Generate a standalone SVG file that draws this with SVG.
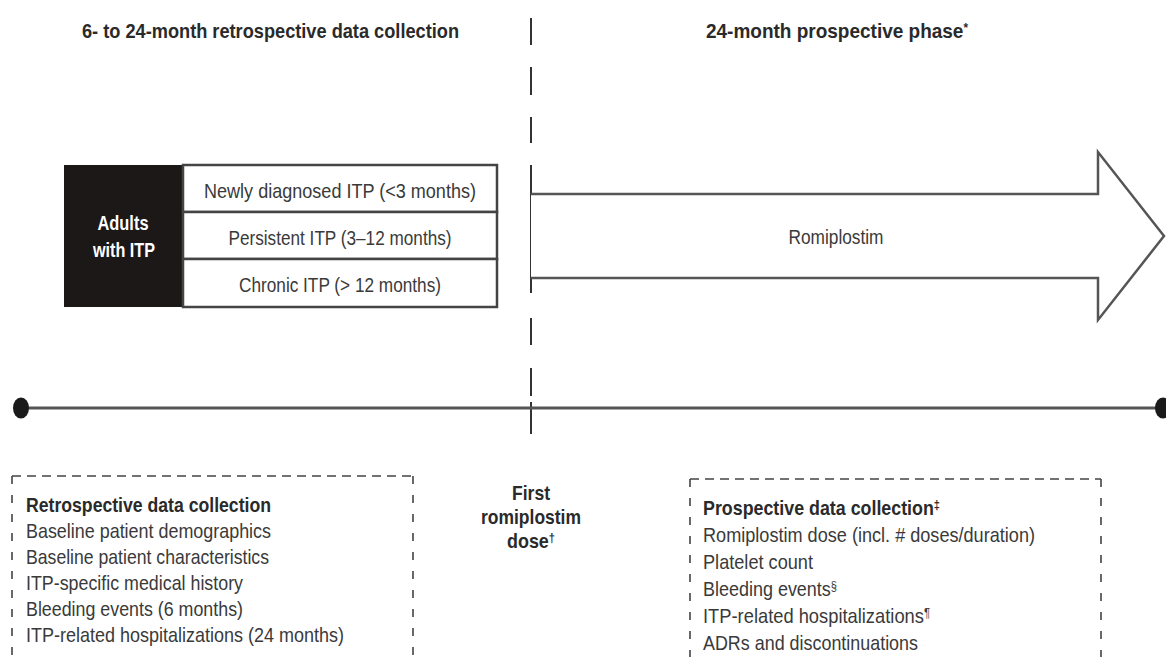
<svg xmlns="http://www.w3.org/2000/svg" width="1166" height="657" viewBox="0 0 1166 657">
<style>
text{font-family:"Liberation Sans Narrow","Liberation Sans",Arial,sans-serif;fill:#3a3a3a}
.h{font-weight:bold;font-size:21px;fill:#2a2a2a}
.b{font-size:21px}
.bb{font-weight:bold;font-size:21px;fill:#2a2a2a}
.w{font-weight:bold;font-size:20px;fill:#ffffff}
.c{text-anchor:middle}
.sup{font-size:13px}
.vl{stroke:#333;stroke-width:2;fill:none}
.dash{stroke:#444;stroke-width:1.6;fill:none}
</style>
<rect width="1166" height="657" fill="#ffffff"/>

<g id="connectors">
  <path class="vl" d="M531,18V45M531,67V95M531,117V143M531,165V293M531,318V345M531,368V396M531,402V434"/>
  <g id="timeline">
    <line x1="21" y1="408" x2="1162" y2="408" stroke="#555" stroke-width="3"/>
    <ellipse cx="21" cy="408" rx="8" ry="10.5" fill="#1a1a1a"/>
    <ellipse cx="1163" cy="408" rx="8" ry="10.5" fill="#1a1a1a"/>
  </g>
</g>

<g id="header-retro">
  <text class="h" x="82" y="38" textLength="377" lengthAdjust="spacingAndGlyphs">6- to 24-month retrospective data collection</text>
</g>
<g id="header-prosp">
  <text class="h" x="706" y="38" textLength="262" lengthAdjust="spacingAndGlyphs">24-month prospective phase<tspan class="sup" dy="-6">*</tspan></text>
</g>

<g id="adults">
  <rect x="64" y="165" width="119" height="142" fill="#1c1818"/>
  <text class="w c" x="123" y="230" textLength="51" lengthAdjust="spacingAndGlyphs">Adults</text>
  <text class="w c" x="124" y="257" textLength="62" lengthAdjust="spacingAndGlyphs">with ITP</text>
</g>
<g id="row-newly">
  <rect x="183" y="165" width="314" height="47" fill="#fff" stroke="#444" stroke-width="2.5"/>
  <text class="b c" x="340" y="198" textLength="272" lengthAdjust="spacingAndGlyphs">Newly diagnosed ITP (&lt;3 months)</text>
</g>
<g id="row-persistent">
  <rect x="183" y="212" width="314" height="47" fill="#fff" stroke="#444" stroke-width="2.5"/>
  <text class="b c" x="340" y="245" textLength="223" lengthAdjust="spacingAndGlyphs">Persistent ITP (3–12 months)</text>
</g>
<g id="row-chronic">
  <rect x="183" y="259" width="314" height="48" fill="#fff" stroke="#444" stroke-width="2.5"/>
  <text class="b c" x="340" y="292" textLength="202" lengthAdjust="spacingAndGlyphs">Chronic ITP (&gt; 12 months)</text>
</g>

<g id="romiplostim-arrow">
  <path d="M531,194H1098V152L1164,236L1098,320V278H531" fill="#fff" stroke="#555" stroke-width="2.5" stroke-linejoin="miter"/>
  <text class="b c" x="836" y="244" textLength="95" lengthAdjust="spacingAndGlyphs">Romiplostim</text>
</g>

<g id="first-dose">
  <text class="bb c" x="531" y="500" textLength="38" lengthAdjust="spacingAndGlyphs">First</text>
  <text class="bb c" x="531" y="524" textLength="100" lengthAdjust="spacingAndGlyphs">romiplostim</text>
  <text class="bb c" x="531" y="548" textLength="48" lengthAdjust="spacingAndGlyphs">dose<tspan class="sup" dy="-6">†</tspan></text>
</g>

<g id="retro-box">
  <path class="dash" d="M12,476H413" stroke-dasharray="9 6"/>
  <path class="dash" d="M12,476V657M413,476V657" stroke-dasharray="8 11"/>
  <text class="bb" x="26" y="512" textLength="245" lengthAdjust="spacingAndGlyphs">Retrospective data collection</text>
  <text class="b" x="26" y="538" textLength="245" lengthAdjust="spacingAndGlyphs">Baseline patient demographics</text>
  <text class="b" x="26" y="564" textLength="243" lengthAdjust="spacingAndGlyphs">Baseline patient characteristics</text>
  <text class="b" x="26" y="590" textLength="217" lengthAdjust="spacingAndGlyphs">ITP-specific medical history</text>
  <text class="b" x="26" y="616" textLength="217" lengthAdjust="spacingAndGlyphs">Bleeding events (6 months)</text>
  <text class="b" x="26" y="642" textLength="318" lengthAdjust="spacingAndGlyphs">ITP-related hospitalizations (24 months)</text>
</g>

<g id="prosp-box">
  <path class="dash" d="M690,479H1101" stroke-dasharray="9 6"/>
  <path class="dash" d="M690,479V657M1101,479V657" stroke-dasharray="8 11"/>
  <text class="bb" x="703" y="515" textLength="237" lengthAdjust="spacingAndGlyphs">Prospective data collection<tspan class="sup" dy="-6">‡</tspan></text>
  <text class="b" x="703" y="542" textLength="332" lengthAdjust="spacingAndGlyphs">Romiplostim dose (incl. # doses/duration)</text>
  <text class="b" x="703" y="569" textLength="110" lengthAdjust="spacingAndGlyphs">Platelet count</text>
  <text class="b" x="703" y="596" textLength="134" lengthAdjust="spacingAndGlyphs">Bleeding events<tspan class="sup" dy="-6">§</tspan></text>
  <text class="b" x="703" y="623" textLength="227" lengthAdjust="spacingAndGlyphs">ITP-related hospitalizations<tspan class="sup" dy="-6">¶</tspan></text>
  <text class="b" x="703" y="650" textLength="215" lengthAdjust="spacingAndGlyphs">ADRs and discontinuations</text>
</g>
</svg>
